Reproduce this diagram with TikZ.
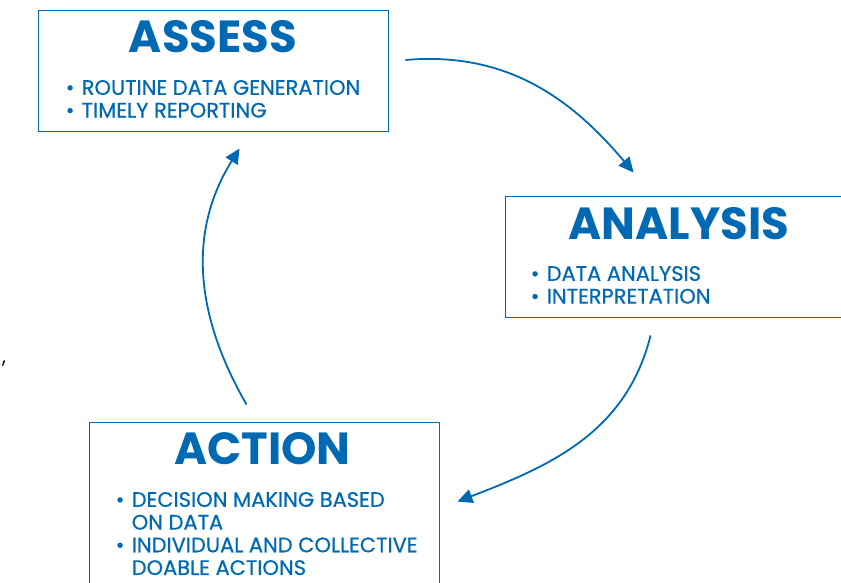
\documentclass[tikz,border=0pt]{standalone}
\usepackage{fontspec}
\setmainfont{Poppins}
\usetikzlibrary{arrows.meta,positioning}
\definecolor{cycleblue}{RGB}{0,105,180}
\newcommand{\itm}{\makebox[13pt][l]{\hspace{-3pt}\textbullet}}
\newcommand{\cnt}{\hspace*{13pt}}
\begin{document}
\begin{tikzpicture}[x=1pt,y=1pt,
  box/.style={draw=cycleblue,line width=0.9pt,minimum width=350pt,minimum height=121pt,inner sep=0pt},
  ttl/.style={text=cycleblue,font=\bfseries\fontsize{45}{45}\selectfont,inner sep=0pt,anchor=base},
  lst/.style={text=cycleblue,font=\addfontfeatures{FakeBold=0.6}\fontsize{21}{22.7}\selectfont,align=left,inner sep=0pt,anchor=north west},
  cyc/.style={draw=cycleblue,line width=1.8pt,-{Triangle[length=15pt,width=14pt]}}]
\useasboundingbox (0,0) rectangle (841,-583);
\clip (0,0) rectangle (841,-583);
% the three boxes
\node[box] (assess) at (213,-70.5) {};
\node[box,minimum width=355pt] (analysis) at (682.5,-256.5) {};
\node[box,minimum height=175pt] (action) at (264,-509.5) {};
% titles and items
\node[ttl] (assessT) at ([yshift=-43pt]assess.north) {ASSESS};
\node[lst] (assessL) at ([xshift=31pt,yshift=-70.3pt]assess.north west) {\itm ROUTINE DATA GENERATION\\ \itm TIMELY REPORTING};
\node[ttl] (analysisT) at ([xshift=174.5pt,yshift=-44pt]analysis.north west) {ANALYSIS};
\node[lst] (analysisL) at ([xshift=29pt,yshift=-70.3pt]analysis.north west) {\itm DATA ANALYSIS\\ \itm INTERPRETATION};
\node[ttl] (actionT) at ([xshift=-1.5pt,yshift=-43pt]action.north) {ACTION};
\node[lst] (actionL) at ([xshift=30pt,yshift=-70.3pt]action.north west) {\itm DECISION MAKING BASED\\ \cnt ON DATA\\ \itm INDIVIDUAL AND COLLECTIVE\\ \cnt DOABLE ACTIONS};
\node[font=\fontsize{20}{20}\selectfont] (comma) at (4,-364) {,};
% arrow ends
\coordinate (a1) at ([xshift=17pt,yshift=10.5pt]assess.east);
\coordinate (b1) at ([xshift=129pt,yshift=23pt]analysis.north west);
\coordinate (a2) at ([xshift=146pt,yshift=-18pt]analysis.south west);
\coordinate (b2) at ([xshift=18pt,yshift=-80pt]action.north east);
\coordinate (a3) at ([xshift=158pt,yshift=17pt]action.north west);
\coordinate (b3) at ([xshift=202pt,yshift=-17pt]assess.south west);
\draw[cyc] (a1) to[out=5,in=130] (b1);
\draw[cyc] (a2) to[out=-104,in=21] (b2);
\draw[cyc] (a3) to[out=120,in=-122] (b3);
\end{tikzpicture}
\end{document}
